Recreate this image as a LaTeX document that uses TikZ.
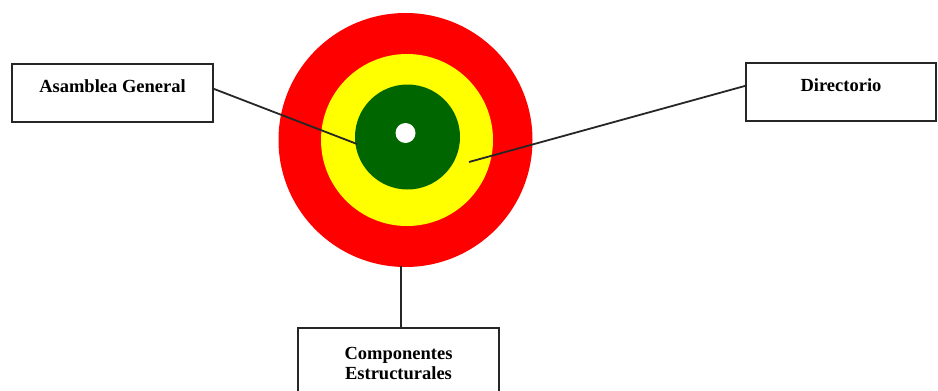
\documentclass[tikz,border=0pt]{standalone}
\usepackage{fontspec}
\setmainfont{Liberation Serif}
\definecolor{ringred}{RGB}{255,0,0}
\definecolor{ringyellow}{RGB}{255,255,0}
\definecolor{ringgreen}{RGB}{0,102,0}
\tikzset{
  orgbox/.style={draw=black!85, line width=1.8pt, fill=white, inner sep=0pt,
    font=\bfseries\fontsize{18.5}{20}\selectfont, align=center},
  ring/.style={circle, inner sep=0pt, draw=none},
  link/.style={draw=black!85, line width=1.8pt}
}
\begin{document}
\begin{tikzpicture}[x=1pt,y=-1pt]
\useasboundingbox (0,0) rectangle (938,391);
% target rings
\node[ring, fill=ringred, minimum size=254pt] (outer) at (405.5,140) {};
\node[ring, fill=ringyellow, minimum size=172pt] (middle) at (407,140) {};
\node[ring, fill=ringgreen, minimum size=105pt] (inner) at (407.5,137) {};
\node[ring, fill=white, minimum size=20pt] (dot) at (405.5,133) {};
% boxes
\node[orgbox, anchor=north, minimum width=201pt, text height=29pt, text depth=29pt] (asam) at (112.5,63) {Asamblea General};
\node[orgbox, anchor=north, minimum width=190pt, text height=29pt, text depth=29pt] (dir) at (841,62) {Directorio};
\node[orgbox, anchor=north, minimum width=201pt, minimum height=72pt] (comp) at (398.5,327) {Componentes\\Estructurales};
% connector ends
\coordinate (asamend) at (357,144);
\coordinate (dirend) at (469,162);
\coordinate (compend) at (401,266);
% connectors
\draw[link] ([yshift=4pt]asam.east) -- (asamend);
\draw[link] ([yshift=6pt]dir.west) -- (dirend);
\draw[link] (compend) -- (compend |- comp.north);
\end{tikzpicture}
\end{document}
